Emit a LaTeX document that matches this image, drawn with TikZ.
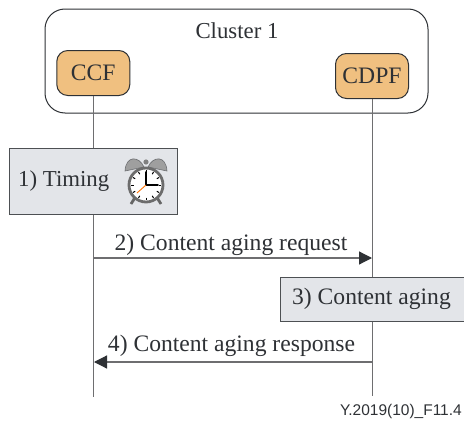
\documentclass[tikz,border=0pt]{standalone}
\usepackage{fontspec}
\setmainfont{Liberation Serif}
\newfontfamily\figfont{Liberation Sans}
\usetikzlibrary{arrows.meta}
\definecolor{boxgray}{HTML}{E3E5E9}
\definecolor{funcorange}{HTML}{F0C080}
\definecolor{inkdark}{HTML}{2E3135}
\definecolor{linegray}{HTML}{6E6E70}
\tikzset{
  lbl/.style={font=\fontsize{23.6}{25}\selectfont, text=inkdark, inner sep=0pt},
  func/.style={draw=inkdark, line width=1pt, fill=funcorange, rounded corners=11pt, minimum width=73pt, minimum height=45pt, inner sep=0pt, lbl},
  stepbox/.style={draw=inkdark!85, line width=.9pt, fill=boxgray, inner sep=0pt, lbl},
  life/.style={draw=linegray, line width=1.2pt},
  msg/.style={draw=linegray, line width=1.2pt, -{Triangle[length=13pt,width=13pt,color=inkdark]}},
}
\begin{document}
\begin{tikzpicture}[x=1pt,y=-1pt]
\useasboundingbox (0,0) rectangle (464,423);
\fill[white] (0,0) rectangle (464,423);
\node[draw=inkdark, line width=1pt, rounded corners=20pt, minimum width=383pt, minimum height=104pt, inner sep=0pt] (cluster) at (236.5,61) {};
\node[lbl, font=\fontsize{22.8}{24}\selectfont] (clabel) at (237,31) {Cluster 1};
\node[func] (ccf) at (93.3,73) {CCF};
\node[func] (cdpf) at (372,76) {CDPF};
\coordinate (ccfend) at (93.5,397);
\coordinate (cdpfend) at (372.5,396);
\draw[life] (ccf.south -| ccfend) -- (ccfend);
\draw[life] (cdpf.south -| cdpfend) -- (cdpfend);
\node[stepbox, minimum width=168pt, minimum height=66pt] (timing) at (93,181) {};
\node[lbl, font=\fontsize{22.8}{24}\selectfont, anchor=west] (timinglabel) at (18,181) {1) Timing};
\begin{scope}[shift={(146,183)}]
  % bells
  \fill[gray!75!white, draw=inkdark!70, line width=.6pt] (-2,-16) .. controls (-7,-27) and (-20,-28) .. (-21,-12) -- cycle;
  \fill[gray!75!white, draw=inkdark!70, line width=.6pt] (2,-16) .. controls (7,-27) and (20,-28) .. (21,-12) -- cycle;
  \fill[gray] (0,-21) circle (2.6);
  % feet
  \draw[line width=2.8pt, gray!80!black] (-10,13) -- (-15,21);
  \draw[line width=2.8pt, gray!80!black] (10,13) -- (15,21);
  % face
  \fill[white, draw=gray!85!black, line width=2.8pt] (0,2) circle (17);
  \foreach \a in {0,30,...,330}
    \draw[line width=1pt, black] (\a:12.5) ++(0,2) -- ++(\a:2.5);
  \draw[line width=1.7pt, black, line cap=round] (0,2) -- (0,-11);
  \draw[line width=1.7pt, black, line cap=round] (0,2) -- (12,2);
  \draw[line width=.9pt, orange!90!red] (0,2) -- (-9,10);
\end{scope}
\node[stepbox, minimum width=184pt, minimum height=44pt] (aging) at (372,299) {};
\node[lbl] (aginglabel) at (371.5,299) {3) Content aging};
\coordinate (reqstart) at (93.5,258);
\coordinate (reqend) at (372,258);
\coordinate (respstart) at (372.5,362);
\coordinate (respend) at (94,362);
\draw[msg] (reqstart) -- (reqend);
\draw[msg] (respstart) -- (respend);
\node[lbl] (reqlabel) at (231,245) {2) Content aging request};
\node[lbl] (resplabel) at (231.5,346) {4) Content aging response};
\node[font=\figfont\fontsize{15.5}{16}\selectfont, text=inkdark, inner sep=0pt, anchor=east] (figid) at (462,411) {Y.2019(10)\_F11.4};
\end{tikzpicture}
\end{document}
